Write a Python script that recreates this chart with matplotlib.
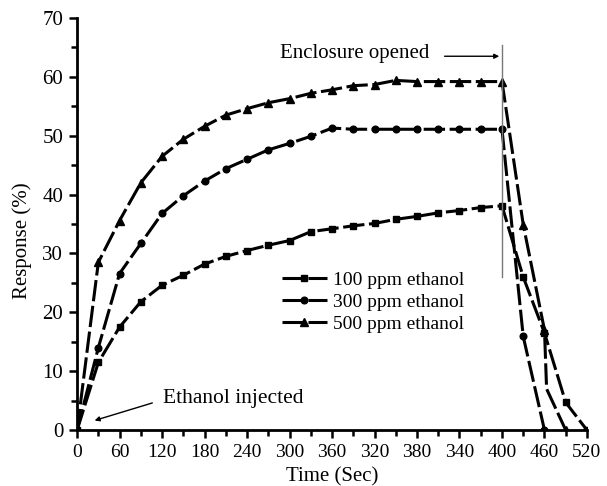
import numpy as np
import matplotlib
matplotlib.use('Agg')
import matplotlib.pyplot as plt

plt.rcParams['font.family'] = 'Liberation Serif'

# x positions follow the printed tick spacing (one tick = 60 units)
t_rise = [0, 30, 60, 90, 120, 150, 180, 210, 240, 270, 300, 330, 360, 390,
          420, 450, 480, 510, 540, 570, 600]

x100 = t_rise + [630, 660, 690, 720]
y100 = [0, 11.5, 17.5, 21.8, 24.6, 26.3, 28.2, 29.5, 30.5, 31.4, 32.2, 33.7, 34.2,
        34.7, 35.1, 35.8, 36.3, 36.9, 37.3, 37.8, 38.1,
        26.0, 16.5, 4.7, 0]

x300 = t_rise + [630, 660]
y300 = [0, 14.0, 26.6, 31.7, 36.8, 39.8, 42.3, 44.4, 46.0, 47.6, 48.7, 49.9, 51.3,
        51.1, 51.1, 51.1, 51.1, 51.1, 51.1, 51.1, 51.1,
        15.9, 0]

x500 = t_rise + [630, 660, 663, 690]
y500 = [0, 28.5, 35.6, 42.0, 46.5, 49.4, 51.6, 53.5, 54.6, 55.6, 56.3, 57.2, 57.8,
        58.5, 58.7, 59.4, 59.2, 59.2, 59.2, 59.2, 59.2,
        34.9, 17.0, 7.0, 0]

xtick_pos = np.arange(0, 721, 60)
xtick_lab = ['0', '60', '120', '180', '240', '300', '360', '320', '380', '340',
             '400', '460', '520']

fig = plt.figure(figsize=(6.07, 4.86), dpi=100)
ax = fig.add_axes([0.127, 0.115, 0.840, 0.848])

style = dict(color='black', lw=2.2, dashes=(7, 1.5))
ax.plot(x100, y100, marker='s', markersize=4.2, label='100 ppm ethanol', **style)
ax.plot(x300, y300, marker='o', markersize=4.8, label='300 ppm ethanol', **style)
ax.plot(x500, y500, marker='^', markersize=5.8, label='500 ppm ethanol',
        markevery=[i for i in range(len(x500)) if i != 23], **style)

# enclosure opened marker line
ax.plot([600, 600], [26, 65.4], color='#777777', lw=1.0)
ax.annotate('', xy=(600, 63.5), xytext=(515, 63.5),
            arrowprops=dict(arrowstyle='-|>', color='black', lw=1.0,
                            mutation_scale=7))
ax.text(287, 63.9, 'Enclosure opened', fontsize=15, va='center', ha='left')

ax.annotate('', xy=(21, 1.5), xytext=(110, 4.75),
            arrowprops=dict(arrowstyle='-|>', color='black', lw=1.0,
                            mutation_scale=7))
ax.text(121, 5.4, 'Ethanol injected', fontsize=15.5, va='center', ha='left')

ax.set_xlim(0, 720)
ax.set_ylim(0, 70)
ax.set_xticks(xtick_pos)
ax.set_xticklabels(xtick_lab)
ax.set_xticks(np.arange(30, 720, 60), minor=True)
ax.set_yticks(np.arange(0, 71, 10))
ax.set_yticks(np.arange(5, 70, 10), minor=True)
ax.tick_params(which='major', length=6, width=1.8, pad=4)
ax.tick_params(axis='x', labelsize=14)
ax.tick_params(axis='y', labelsize=15)
ax.tick_params(which='minor', length=4, width=1.8)
for s in ['top', 'right']:
    ax.spines[s].set_visible(False)
for s in ['left', 'bottom']:
    ax.spines[s].set_linewidth(2.0)

ax.set_xlabel('Time (Sec)', fontsize=15)
ax.xaxis.set_label_coords(0.5, -0.09)
ax.set_ylabel('Response (%)', fontsize=15)
ax.yaxis.set_label_coords(-0.088, 0.459)

ax.legend(loc='upper left', bbox_to_anchor=(0.402, 0.385), frameon=False,
          fontsize=14, handlelength=2.3, handletextpad=0.3, labelspacing=0.22,
          borderpad=0, borderaxespad=0)

fig.savefig('out.png', dpi=100)
